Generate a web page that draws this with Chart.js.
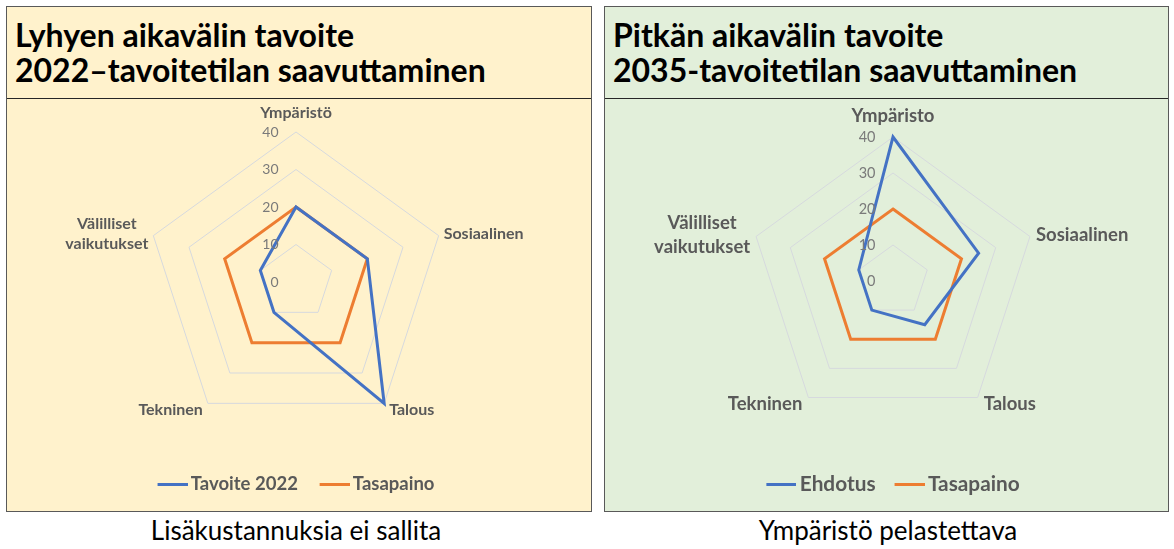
<!DOCTYPE html>
<html>
<head>
<meta charset="utf-8">
<script src="https://cdn.jsdelivr.net/npm/chart.js@4.4.0/dist/chart.umd.min.js"></script>
<style>
  body { margin: 0; width: 1174px; height: 549px; background: #fff; font-family: Lato, sans-serif; position: relative; overflow: hidden; }
  .panel { position: absolute; top: 6px; height: 506px; box-sizing: border-box; border: 1px solid #595959; }
  .left { left: 6px; width: 586px; background: #fff2cc; }
  .right { left: 604px; width: 565px; background: #e2efda; }
  .title { position: absolute; left: 0; top: 0; right: 0; height: 92px; box-sizing: border-box; border-bottom: 1px solid #262626;
           padding: 10px 0 0 8px; font-weight: bold; font-size: 32px; line-height: 35px; color: #000; }
  .panel canvas { position: absolute; left: 0; top: 91px; }
  .caption { position: absolute; top: 513px; font-size: 26px; line-height: 34px; color: #000; text-align: center; width: 580px; }
</style>
</head>
<body>
<div class="panel left">
  <div class="title">Lyhyen aikavälin tavoite<br>2022–tavoitetilan saavuttaminen</div>
  <canvas id="shortChart" width="584" height="412"></canvas>
</div>
<div class="panel right">
  <div class="title">Pitkän aikavälin tavoite<br>2035-tavoitetilan saavuttaminen</div>
  <canvas id="longChart" width="563" height="412"></canvas>
</div>
<div class="caption" style="left: 6px;">Lisäkustannuksia ei sallita</div>
<div class="caption" style="left: 598px;">Ympäristö pelastettava</div>
<script>
// categories of both charts (last one is split over two lines)
const shortLabels = ['Ympäristö', 'Sosiaalinen', 'Talous', 'Tekninen', ['Välilliset', 'vaikutukset']];
const longLabels = ['Ympäristo', 'Sosiaalinen', 'Talous', 'Tekninen', ['Välilliset', 'vaikutukset']];

// series values
const tavoite2022 = [20, 20, 40, 10, 10];
const tasapainoShort = [20, 20, 20, 20, 20];
const ehdotus = [40, 25, 15, 10, 10];
const tasapainoLong = [20, 20, 20, 20, 20];

// radial axis
const axisTicks = [0, 10, 20, 30, 40];

const BLUE = '#4472c4';
const ORANGE = '#ed7d31';
const TEXT = '#595959';

// legend symbol: 30px line, right aligned in an image centred on the legend box
function legendLine(color, box) {
    const c = document.createElement('canvas');
    c.width = 60 - box;
    c.height = 3;
    const g = c.getContext('2d');
    g.fillStyle = color;
    g.fillRect(30 - box, 0, 30, 3);
    return c;
}

// draws the tick labels left of the vertical axis and the category labels round the web
const axisText = {
    id: 'axisText',
    afterDraw(chart, args, opts) {
        const r = chart.scales.r;
        const ctx = chart.ctx;
        ctx.save();

        ctx.fillStyle = '#7a7a7a';
        ctx.font = opts.tickSize + 'px Lato';
        ctx.textAlign = 'right';
        ctx.textBaseline = 'middle';
        axisTicks.forEach(v => {
            ctx.fillText(String(v), r.xCenter - 17.5, r.yCenter - r.getDistanceFromCenterForValue(v));
        });

        ctx.fillStyle = TEXT;
        ctx.font = 'bold ' + opts.labelSize + 'px Lato';
        const lh = opts.labelSize * 1.25;
        chart.data.labels.forEach((label, i) => {
            const p = r.getPointPosition(i, r.drawingArea);
            const lines = Array.isArray(label) ? label : [label];
            const widest = Math.max(...lines.map(t => ctx.measureText(t).width));
            const dx = p.x - r.xCenter;
            let cx, cy;
            if (Math.abs(dx) < 1) {
                cx = p.x;
                cy = p.y - opts.topGap;
            } else {
                cx = dx > 0 ? p.x + opts.gap + widest / 2 : p.x - opts.gap - widest / 2;
                cy = p.y < r.yCenter ? p.y - 1.5 : p.y + opts.below;
            }
            ctx.textAlign = 'center';
            lines.forEach((t, k) => {
                ctx.fillText(t, cx, cy + (k - (lines.length - 1) / 2) * lh);
            });
        });
        ctx.restore();
    }
};

function radar(id, labels, names, series, o) {
    return new Chart(document.getElementById(id), {
        type: 'radar',
        data: {
            labels: labels,
            datasets: [
                { label: names[0], data: series[0], borderColor: BLUE, backgroundColor: BLUE, borderWidth: 3 },
                { label: names[1], data: series[1], borderColor: ORANGE, backgroundColor: ORANGE, borderWidth: 3 }
            ]
        },
        options: {
            responsive: false,
            animation: false,
            layout: { padding: o.padding },
            elements: {
                line: { fill: false, tension: 0 },
                point: { radius: 0, hoverRadius: 0 }
            },
            scales: {
                r: {
                    min: 0,
                    max: 40,
                    ticks: { display: false, stepSize: 10 },
                    grid: { color: '#d6d9de', lineWidth: 1 },
                    angleLines: { display: false },
                    pointLabels: { display: false }
                }
            },
            plugins: {
                legend: {
                    position: 'bottom',
                    title: { display: true, text: '', font: { size: 10, lineHeight: 1 }, padding: { top: 0, bottom: o.legendGap } },
                    labels: {
                        usePointStyle: true,
                        pointStyleWidth: o.boxWidth,
                        padding: o.itemGap,
                        color: TEXT,
                        font: { family: 'Lato', weight: '700', size: o.legendSize },
                        generateLabels: chart => Chart.defaults.plugins.legend.labels.generateLabels(chart)
                            .map(item => Object.assign(item, { pointStyle: legendLine(item.strokeStyle, o.boxWidth) }))
                    }
                },
                tooltip: { enabled: false },
                axisText: { tickSize: o.tickSize, labelSize: o.labelSize, gap: o.gap, topGap: o.topGap, below: o.below }
            }
        },
        plugins: [axisText]
    });
}

radar('shortChart', shortLabels, ['Tavoite 2022', 'Tasapaino'], [tavoite2022, tasapainoShort], {
    padding: { left: 0, right: 6, top: 34, bottom: 6.75 },
    legendGap: 11.05, itemGap: 21.7, boxWidth: 24, legendSize: 18.5,
    tickSize: 14, labelSize: 16, gap: 5, topGap: 19, below: 6
});
radar('longChart', longLabels, ['Ehdotus', 'Tasapaino'], [ehdotus, tasapainoLong], {
    padding: { left: 13, right: 0, top: 39, bottom: 5.6 },
    legendGap: 19.6, itemGap: 19, boxWidth: 23, legendSize: 20.8,
    tickSize: 14.5, labelSize: 18.5, gap: 6, topGap: 21, below: 7
});
</script>
</body>
</html>
